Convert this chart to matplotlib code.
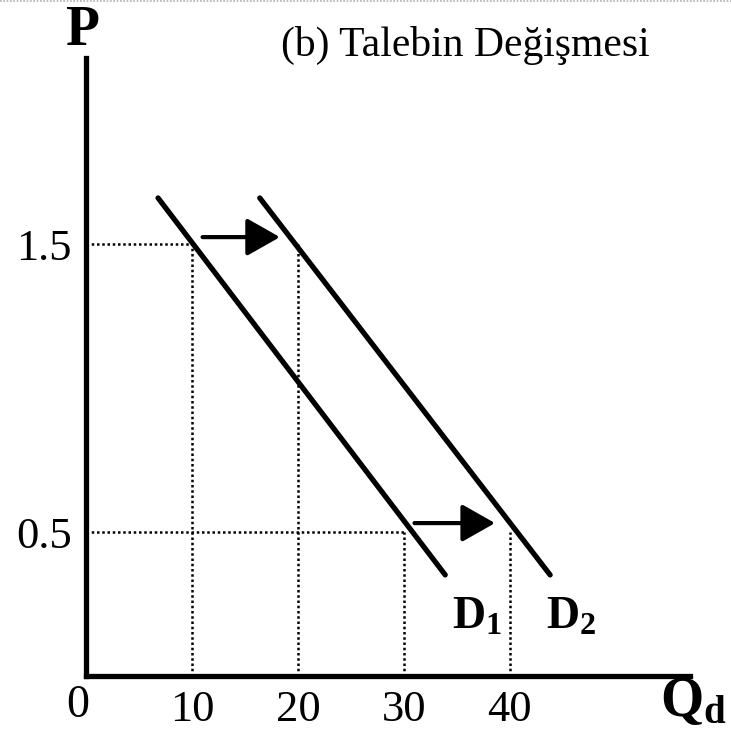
import matplotlib.pyplot as plt
from matplotlib.lines import Line2D

plt.rcParams['font.family'] = ['Liberation Serif', 'DejaVu Serif']
plt.rcParams['mathtext.fontset'] = 'custom'
plt.rcParams['mathtext.rm'] = 'Liberation Serif'
plt.rcParams['mathtext.bf'] = 'Liberation Serif:bold'

# demand curves (quantity, price) end points
d1_q = [6.8, 33.9]
d1_p = [1.66, 0.351]
d2_q = [16.4, 43.8]
d2_p = [1.66, 0.351]

# equilibrium points marked with dotted guides
prices = [1.5, 0.5]
q_on_d1 = [10, 30]
q_on_d2 = [20, 40]

# shift arrows (start q, end q, price)
arrow_start = [11.0, 31.0]
arrow_end = [18.3, 38.6]
arrow_p = [1.524, 0.531]

x_ticks = [10, 20, 30, 40]
y_ticks = [0.5, 1.5]

W, H = 731, 734
fig = plt.figure(figsize=(W / 100, H / 100), dpi=100)
fig.patch.set_facecolor('white')

ax = fig.add_axes([86 / W, (H - 676) / H, 604 / W, 618 / H])
ax.set_xlim(0, 57.0)
ax.set_ylim(0, 2.146)
for s in ['top', 'right']:
    ax.spines[s].set_visible(False)
for s in ['left', 'bottom']:
    ax.spines[s].set_linewidth(3.8)
    ax.spines[s].set_capstyle('projecting')

ax.set_xticks(x_ticks)
ax.set_xticklabels([str(t) for t in x_ticks], fontsize=32)
ax.set_yticks(y_ticks)
ax.set_yticklabels([str(t) for t in y_ticks], fontsize=32)
ax.tick_params(length=0)
ax.tick_params(axis='x', pad=10)
ax.tick_params(axis='y', pad=10)

dot = dict(color='black', lw=1.8, linestyle=(0, (1, 1.1)))
for p, qa, qb in zip(prices, q_on_d1, q_on_d2):
    ax.plot([0, qa], [p, p], **dot)
    ax.plot([qa, qa], [0, p], **dot)
    ax.plot([qb, qb], [0, p], **dot)

ax.plot(d1_q, d1_p, color='black', lw=3.8, solid_capstyle='round')
ax.plot(d2_q, d2_p, color='black', lw=3.8, solid_capstyle='round')

for q0, q1, p in zip(arrow_start, arrow_end, arrow_p):
    ax.annotate('', xy=(q1, p), xytext=(q0, p),
                arrowprops=dict(arrowstyle='-|>,head_length=0.6,head_width=0.34',
                                color='black', lw=3, mutation_scale=34,
                                shrinkA=0, shrinkB=0))

ax.text(34.5, 0.165, r'$\mathbf{D_1}$', fontsize=33, ha='left', va='baseline')
ax.text(43.4, 0.165, r'$\mathbf{D_2}$', fontsize=33, ha='left', va='baseline')
ax.text(54.2, -0.14, r'$\mathbf{Q_d}$', fontsize=40, ha='left', va='baseline',
        clip_on=False)
ax.text(0.3, -0.03, '0', fontsize=33, ha='right', va='top', clip_on=False)

fig.text(66 / W, 1 - 5 / H, 'P', fontsize=40, fontweight='bold', ha='left', va='top')
fig.text(465 / W, 1 - 45 / H, '(b) Talebin Değişmesi', fontsize=30,
         ha='center', va='center')

fig.add_artist(Line2D([0, 1], [1 - 1 / H, 1 - 1 / H], transform=fig.transFigure,
                      color='#b0b0b0', lw=1.2, linestyle=(0, (1, 1))))

fig.savefig('out.png', dpi=100, facecolor='white')
